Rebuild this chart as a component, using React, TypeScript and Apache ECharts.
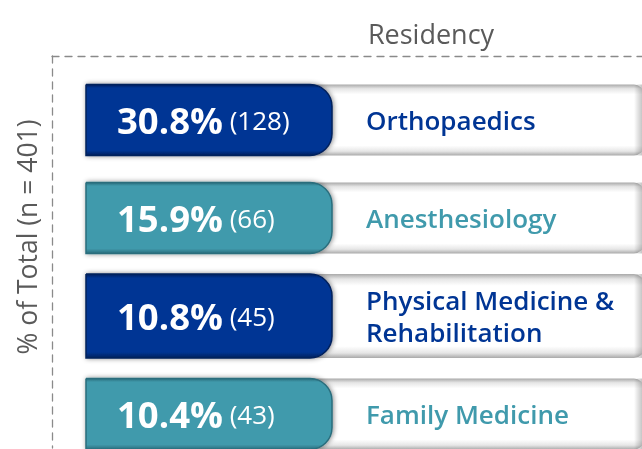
import React, { useEffect, useRef } from 'react';
import * as echarts from 'echarts';

const categories = ['Orthopaedics', 'Anesthesiology', 'Physical Medicine &\nRehabilitation', 'Family Medicine'];
const percents = [30.8, 15.9, 10.8, 10.4];
const counts = [128, 66, 45, 43];
const palette = ['#003594', '#409aac', '#003594', '#409aac'];
const edgeShade = ['#00205c', '#2a6d7c', '#00205c', '#2a6d7c'];

const xAxisName = 'Residency';
const yAxisName = '% of Total (n = 401)';

const FONT = '"Open Sans", "Noto Sans", sans-serif';

export default function App() {
  const ref = useRef<HTMLDivElement>(null);
  useEffect(() => {
    const chart = echarts.init(ref.current!, null, { renderer: 'svg' });
    const BOX_OFF = 34;
    const BOX_W = 246;
    const TRACK_END = 644;
    const PCT_OFF = 65;
    const LABEL_OFF = 314;
    const Y_SHIFT = 15;

    const option: any = {
      animation: false,
      grid: { left: 52, right: 0, top: 56, bottom: 1, containLabel: false },
      xAxis: {
        type: 'value',
        position: 'top',
        min: 0,
        max: 100,
        axisLine: { show: true, lineStyle: { color: '#8a8a8a', type: [7, 6], width: 1.3 } },
        axisTick: { show: false },
        axisLabel: { show: false },
        splitLine: { show: false },
      },
      yAxis: {
        type: 'category',
        inverse: true,
        data: categories,
        axisLine: { show: true, lineStyle: { color: '#8a8a8a', type: [7, 6], width: 1.3 } },
        axisTick: { show: false },
        axisLabel: { show: false },
        splitLine: { show: false },
      },
      graphic: [
        {
          type: 'text',
          x: 431,
          y: 33,
          style: {
            text: xAxisName,
            fontFamily: FONT,
            fontSize: 27,
            fill: '#5a5a5a',
            align: 'center',
            verticalAlign: 'middle',
          },
        },
        {
          type: 'text',
          x: 27,
          y: 237,
          rotation: Math.PI / 2,
          style: {
            text: yAxisName,
            fontFamily: FONT,
            fontSize: 26.5,
            fill: '#5a5a5a',
            align: 'center',
            verticalAlign: 'middle',
          },
        },
      ],
      series: [
        {
          type: 'custom',
          encode: { x: 0, y: 1 },
          data: categories.map((c, i) => [percents[i], i]),
          renderItem: (params: any, api: any) => {
            const i = api.value(1) as number;
            const base = api.coord([0, i]);
            const x0 = base[0] + BOX_OFF;
            const cy = base[1] + Y_SHIFT;
            const label = categories[i];
            const h = label.indexOf('\n') >= 0 ? 84 : 71;
            const top = cy - h / 2;
            const color = palette[i];
            const dark = edgeShade[i];
            return {
              type: 'group',
              children: [
                {
                  type: 'rect',
                  shape: { x: x0, y: top, width: TRACK_END - x0, height: h, r: [0, 10, 10, 0] },
                  style: {
                    fill: new echarts.graphic.LinearGradient(0, 0, 0, 1, [
                      { offset: 0, color: '#a9a9a9' },
                      { offset: 0.06, color: '#e6e6e6' },
                      { offset: 0.14, color: '#ffffff' },
                      { offset: 0.86, color: '#ffffff' },
                      { offset: 0.94, color: '#e6e6e6' },
                      { offset: 1, color: '#a9a9a9' },
                    ]),
                  },
                },
                {
                  type: 'rect',
                  shape: { x: TRACK_END - 10, y: top, width: 10, height: h },
                  style: {
                    fill: new echarts.graphic.LinearGradient(0, 0, 1, 0, [
                      { offset: 0, color: 'rgba(0,0,0,0)' },
                      { offset: 1, color: 'rgba(0,0,0,0.28)' },
                    ]),
                  },
                },
                {
                  type: 'rect',
                  shape: { x: x0, y: top, width: BOX_W, height: h, r: [0, 22, 22, 0] },
                  style: {
                    fill: new echarts.graphic.LinearGradient(0, 0, 0, 1, [
                      { offset: 0, color: dark },
                      { offset: 0.05, color: color },
                      { offset: 0.93, color: color },
                      { offset: 1, color: dark },
                    ]),
                    stroke: dark,
                    lineWidth: 1.5,
                    shadowColor: 'rgba(0,0,0,0.45)',
                    shadowBlur: 5,
                    shadowOffsetX: 1,
                  },
                },
                {
                  type: 'text',
                  x: base[0] + PCT_OFF,
                  y: cy,
                  style: {
                    text: '{p|' + percents[i].toFixed(1) + '%}{n| (' + counts[i] + ')}',
                    verticalAlign: 'middle',
                    align: 'left',
                    rich: {
                      p: { fontFamily: FONT, fontSize: 36.5, fontWeight: 'bold', fill: '#ffffff', color: '#ffffff', verticalAlign: 'middle' },
                      n: { fontFamily: FONT, fontSize: 26, fill: '#ffffff', color: '#ffffff', verticalAlign: 'middle' },
                    },
                  },
                },
                {
                  type: 'text',
                  x: base[0] + LABEL_OFF,
                  y: cy,
                  style: {
                    text: label,
                    fontFamily: FONT,
                    fontSize: 26,
                    fontWeight: 600,
                    lineHeight: 32,
                    fill: color,
                    align: 'left',
                    verticalAlign: 'middle',
                  },
                },
              ],
            };
          },
        },
      ],
    };
    chart.setOption(option);
    return () => chart.dispose();
  }, []);
  return <div ref={ref} style={{ position: 'fixed', left: 0, top: 0, width: 642, height: 449 }} />;
}
